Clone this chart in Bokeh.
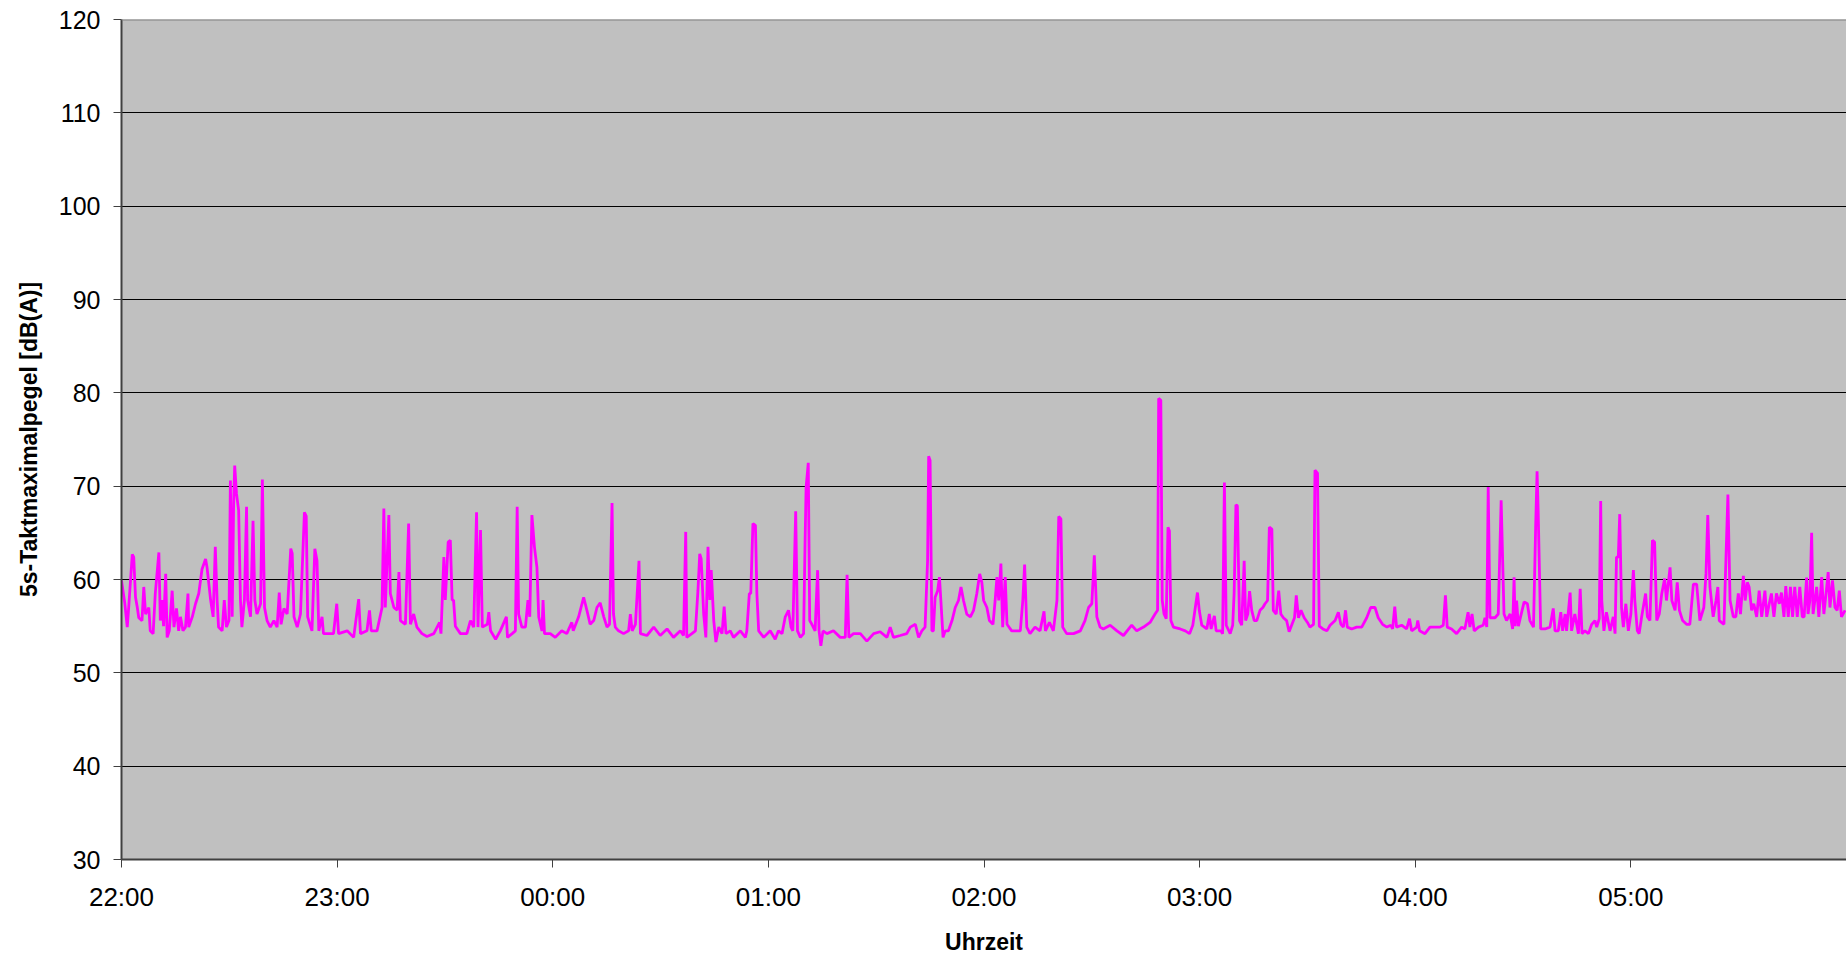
from bokeh.plotting import figure
from bokeh.models import Range1d, FixedTicker, Span
from bokeh.embed import file_html
from bokeh.resources import INLINE

# Minutes after 22:00 and 5 s maximum level in dB(A)
t_min = [
    0.0, 0.9, 1.6, 2.0, 3.0, 3.4, 3.9, 4.4, 4.8, 5.7, 6.2, 6.7, 7.6, 8.0, 8.8, 9.4, 10.4, 10.8, 11.3, 11.7,
    12.3, 12.7, 13.3, 14.1, 14.6, 15.3, 15.9, 16.4, 17.1, 17.8, 18.5, 18.7, 19.7, 20.6, 21.5, 22.4, 23.4, 23.8,
    24.8, 25.5, 26.1, 26.6, 27.0, 28.0, 28.6, 29.2, 29.9, 30.3, 30.8, 31.2, 31.5, 32.0, 32.6, 33.1, 33.5, 34.2,
    34.8, 35.1, 35.9, 36.6, 37.1, 37.7, 38.7, 39.2, 39.8, 40.5, 41.4, 42.4, 43.3, 43.9, 44.4, 45.2, 46.1, 47.1,
    47.5, 48.0, 48.9, 49.8, 50.9, 51.4, 51.8, 53.0, 53.8, 54.4, 54.9, 55.8, 56.2, 59.0, 59.9, 60.4, 62.8, 64.6,
    66.0, 66.5, 68.3, 69.0, 69.5, 71.1, 72.5, 73.0, 73.4, 74.4, 74.8, 75.8, 76.7, 77.2, 77.6, 79.0, 79.9, 80.4,
    81.3, 82.2, 83.6, 85.0, 86.9, 88.5, 88.9, 89.7, 90.1, 90.9, 91.5, 92.0, 92.4, 92.9, 94.3, 96.1, 97.1, 98.0,
    98.8, 99.2, 99.9, 100.4, 101.8, 102.2, 102.7, 104.1, 105.4, 107.1, 107.4, 108.7, 109.6, 110.1, 110.5, 111.4,
    112.4, 113.1, 113.6, 114.2, 114.9, 115.6, 116.1, 117.0, 117.3, 117.7, 119.3, 120.7, 122.5, 123.9, 125.3,
    125.7, 127.2, 128.6, 129.5, 130.4, 131.4, 132.3, 133.2,
    134.2, 135.1, 135.8, 136.5, 136.9, 137.4, 138.3, 139.7, 141.1, 141.6, 142.1, 143.0, 143.6, 144.0, 144.4,
    146.2, 148.1, 149.9, 151.8, 153.6, 155.5, 156.4, 157.0, 157.3, 158.7, 159.7, 160.4, 160.9, 161.3, 162.0,
    162.6, 163.2, 163.7, 164.1, 164.8, 165.4, 166.2, 167.1, 167.7, 168.2, 169.4, 170.3, 172.2, 173.6, 174.0,
    174.7, 175.1, 175.7, 176.4, 176.8, 177.3, 178.7, 180.5, 181.9, 182.8, 183.8, 184.7, 185.6, 186.3, 186.8,
    187.6, 188.1, 188.9, 189.8, 190.2, 190.5, 191.1, 191.5, 192.1, 193.0, 193.7, 194.1, 194.6, 195.2, 196.3,
    198.1, 200.0, 201.4, 201.9, 202.4, 203.7, 205.6, 207.4, 209.3, 211.1, 213.0, 213.9, 214.8, 216.7, 218.5,
    219.5, 220.9, 221.8, 222.7, 223.6, 224.3, 224.6, 225.0, 225.5, 225.9, 226.4, 227.1, 227.6, 228.0, 228.6,
    229.2, 230.1, 231.1, 232.0, 232.9, 233.6, 234.3, 235.2, 236.2, 237.1, 238.0, 238.8, 239.4, 239.9, 240.8,
    241.5, 242.5, 243.1, 243.6, 244.1, 244.7, 245.2, 245.9, 246.4, 247.7, 250.1, 250.8, 251.3, 251.9, 252.8,
    254.2, 255.6, 256.7, 257.1, 258.2, 259.3, 260.3, 260.8, 261.4, 261.9, 263.0, 264.9, 266.8, 268.1, 269.1,
    270.0, 270.7, 271.4, 272.3,
    273.2, 275.1, 277.0, 278.8, 281.1, 282.5, 284.4, 286.2, 287.6, 288.3, 288.6, 289.2, 289.6, 290.1, 290.7,
    291.2, 291.6, 292.0, 292.7, 294.6, 296.0, 297.2, 298.1, 298.8, 299.4, 299.9, 300.6, 302.0, 302.7, 303.2,
    304.1, 304.6, 305.9, 306.4, 306.9, 307.4, 308.5, 309.2, 309.6, 310.1, 310.5, 311.1, 311.7, 312.4, 312.8,
    313.4, 313.9, 314.5, 315.2, 315.9, 316.8, 317.6, 318.2, 318.9, 319.4, 320.1, 320.5, 321.3, 322.0, 322.6,
    323.3, 324.2, 324.9, 325.6, 326.4, 326.9, 327.5, 328.2, 329.1, 330.0, 330.7, 331.7, 332.1, 332.8, 333.3,
    334.3, 335.4, 336.3, 337.7, 338.6, 339.3, 340.0, 340.6, 341.1, 342.3, 343.7, 345.1, 346.5, 347.6, 348.8,
    349.7, 350.9, 352.1, 353.2, 353.7, 354.3, 354.8, 356.2, 357.6, 358.4, 359.0, 360.4, 360.7, 361.2, 362.7,
    364.1, 365.5, 366.9, 367.8, 368.4, 368.9, 370.1, 371.5, 372.9, 373.8, 374.7, 375.2, 375.8, 376.4, 377.6,
    378.9, 379.4, 379.9, 380.3, 380.8, 382.2, 383.1,
    383.9, 384.7, 385.4, 386.4, 387.1, 387.5, 387.8, 388.2, 388.7, 389.3, 390.3, 391.2, 391.9, 392.9, 393.5,
    393.9, 394.2, 394.9, 396.1, 397.5, 398.4, 398.9, 399.8, 400.5, 401.0, 401.7, 402.1, 403.1, 403.5, 404.4,
    405.4, 405.9, 406.4, 407.2, 408.2, 409.1, 410.0, 410.5, 411.2, 411.6, 411.9, 412.5, 413.2, 414.2, 415.1,
    415.6, 416.0, 416.5, 416.9, 417.4, 417.9, 418.6, 419.3, 420.0, 420.7, 421.1, 421.8, 422.3, 423.0, 424.1,
    424.6, 425.3, 426.0, 426.6, 427.2, 427.9, 428.6, 429.4, 429.9, 430.9, 431.4, 432.3, 432.9, 433.5, 434.4,
    435.5, 436.4, 437.4, 438.3, 438.7, 439.2, 440.3, 440.9, 441.4, 442.0, 442.9, 443.7, 444.2, 444.6, 445.9,
    447.0, 447.6, 448.5, 449.2, 449.9, 450.5, 451.3, 451.8, 452.4, 452.9, 453.6, 454.2, 455.0, 455.7, 456.4,
    457.3, 457.8, 458.5, 459.1, 459.8, 460.5, 461.3, 461.9, 462.6, 463.1, 463.8, 464.4, 465.0, 465.6, 466.3,
    467.0, 467.7, 468.2, 468.9, 469.3, 469.8, 470.3, 470.7, 471.7, 472.3, 473.1, 473.7, 474.4, 474.9, 475.4,
    476.1, 476.8, 477.4, 478.0, 478.6, 479.6,
]

level_db = [
    59.9, 57.5, 54.9, 57.0, 62.7, 62.4, 58.1, 57.0, 55.9, 55.6, 59.2, 56.3, 57.0, 54.5, 54.2, 58.5, 62.9, 55.6, 57.8, 55.0,
    60.6, 53.8, 54.5, 58.8, 54.9, 56.9, 54.5, 56.0, 54.5, 54.9, 58.5, 54.9, 56.0, 57.4, 58.5, 61.1, 62.2, 61.3,
    57.8, 56.0, 63.5, 57.8, 54.9, 54.5, 57.8, 54.9, 55.6, 70.6, 56.0, 68.1, 72.2, 69.2, 67.4, 57.8, 54.9, 57.8,
    67.8, 57.8, 56.0, 66.3, 57.8, 56.3, 57.4, 70.7, 57.0, 55.6, 54.9, 55.6, 54.9, 58.6, 55.2, 56.9, 56.3, 63.3,
    62.8, 56.0, 54.9, 56.3, 67.2, 66.8, 56.0, 54.5, 63.3, 62.0, 54.5, 56.0, 54.2, 54.2, 57.4, 54.2, 54.5, 53.8,
    57.9, 54.2, 54.5, 56.7, 54.5, 54.5, 57.0, 67.6, 57.0, 66.9, 58.5, 57.0, 56.7, 60.8, 55.6, 55.2, 66.0, 55.2,
    56.3, 54.9, 54.2, 53.9, 54.2, 55.4, 54.2, 62.4, 57.8, 64.0, 64.2, 57.8, 57.8, 55.0, 54.2, 54.2, 55.6, 54.9,
    67.2, 54.9, 65.3, 54.9, 55.2, 56.5, 54.5, 53.6, 54.5, 56.0, 53.8, 54.2, 54.5, 67.8, 56.3, 54.9,
    54.9, 57.8, 56.0, 66.9, 63.5, 61.3, 56.0, 54.5, 57.8, 54.2, 54.2, 53.8, 54.5, 54.2, 55.4,
    54.5, 56.0, 58.1, 56.7, 55.2, 55.6, 57.0, 57.5,
    56.0, 54.9, 55.2, 68.2, 56.3, 54.9, 54.5, 54.2, 54.5, 56.3, 54.5, 55.2, 59.2, 62.0, 54.2,
    54.0, 54.9, 54.0, 54.7, 53.8, 54.5, 54.0, 65.1, 53.8, 54.2, 54.5, 58.8, 62.75, 62.2, 56.3,
    53.8, 63.5, 57.8, 61.0, 55.6, 53.3, 54.9, 54.2, 57.1, 54.2, 54.5, 53.8, 54.5, 53.8, 54.5,
    58.5, 58.5, 66.0, 65.8, 58.5, 54.5, 53.8, 54.5, 53.6, 54.5, 54.2, 56.0, 56.7, 54.9, 54.5,
    67.3, 54.5, 53.8, 54.2, 63.8, 69.9, 72.5, 55.6, 55.2, 54.5, 61.0, 54.5, 52.9, 54.5, 54.2,
    54.5, 53.8, 53.8, 60.5, 53.8, 54.2, 54.2, 53.4, 54.2, 54.4, 53.8, 54.9, 53.8, 54.0, 54.2,
    54.9, 55.2, 53.8, 54.5, 54.9, 62.0, 73.2, 72.75, 54.5, 54.5, 58.1, 58.8, 60.25, 57.75, 53.8,
    54.5, 54.5, 55.6, 57.0, 57.75, 59.2, 57.75, 56.3, 56.0, 56.7, 58.5, 60.6, 59.7, 57.75, 57.0,
    55.6, 55.2, 57.75, 60.25, 57.75, 61.7, 54.9, 60.25, 55.2, 54.5, 54.5, 57.75, 61.6, 54.9, 54.2,
    54.9, 54.5, 56.6, 54.5, 55.4, 54.5, 57.75, 66.75, 66.5, 54.9, 54.2, 54.2, 54.5, 55.6, 57.0,
    57.4, 62.6, 56.0, 54.9,
    54.7, 55.1, 54.5, 54.0, 55.1, 54.5, 54.9, 55.4, 56.3, 56.7, 79.4, 79.2, 57.75, 56.3, 55.8,
    65.6, 65.2, 55.6, 54.9, 54.7, 54.5, 54.2, 55.1, 57.0, 58.6, 56.7, 55.1, 54.7, 56.3, 54.7,
    56.1, 54.5, 54.5, 54.2, 70.4, 55.1, 54.2, 55.1, 58.5, 68.0, 67.9, 55.6, 55.1, 62.0, 55.6,
    56.3, 58.75, 56.7, 55.6, 55.6, 56.7, 57.0, 57.4, 57.75, 65.6, 65.4, 56.7, 56.3, 58.8, 56.3,
    55.9, 55.6, 54.4, 55.1, 55.9, 58.3, 55.9, 56.7, 55.9, 55.4, 54.9, 55.2, 71.7, 71.4, 55.0,
    54.7, 54.5, 55.1, 55.6, 56.5, 55.2, 54.9, 56.7, 54.9, 54.7, 54.9, 54.9, 55.9, 57.0, 57.0,
    55.9, 55.2, 54.9, 55.1, 54.7, 57.1, 54.9, 55.1, 54.7, 55.8, 54.5, 54.9, 55.6, 54.5, 54.2,
    54.9, 54.9, 54.9, 55.1, 58.3, 54.9, 54.7, 54.2, 54.9, 54.7, 56.5, 54.9, 56.3, 54.5, 54.9,
    55.1, 55.9, 54.9, 69.9, 55.9, 55.9, 56.3,
    68.5, 56.3, 55.6, 56.3, 54.7, 60.25, 55.0, 57.75, 55.0, 56.0, 57.6, 57.4, 55.6, 54.9, 65.6,
    71.6, 67.4, 54.7, 54.7, 54.9, 56.9, 54.5, 54.5, 56.5, 54.5, 56.3, 54.5, 58.6, 54.5, 56.3,
    54.2, 59.0, 54.2, 54.5, 54.2, 55.2, 55.6, 54.9, 55.8, 68.4, 57.75, 54.5, 56.5, 54.5, 56.0,
    54.2, 62.4, 62.4, 67.0, 57.0, 54.9, 57.4, 54.5, 56.3, 61.0, 57.75, 54.5, 54.2, 56.0, 58.5,
    56.0, 55.6, 64.2, 64.0, 55.6, 56.3, 58.5, 60.1, 57.75, 61.3, 57.75, 56.7, 59.7, 56.7, 55.6,
    55.2, 55.2, 59.5, 59.5, 57.75, 55.6, 57.0, 60.6, 66.9, 59.2, 56.0, 57.75, 59.2, 55.6, 55.2,
    69.1, 57.75, 56.0, 56.0, 58.5, 56.3, 60.4, 57.75, 59.7, 59.2, 56.7, 57.4, 56.0, 58.8, 56.0,
    58.8, 56.0, 57.4, 58.5, 56.0, 58.5, 57.4, 58.6, 56.0, 59.3, 56.0, 59.2, 56.0, 59.2, 56.0,
    59.2, 56.0, 56.0, 60.2, 56.3, 57.75, 65.0, 56.3, 59.2, 56.0, 60.25, 56.3, 58.8, 60.8, 57.0,
    59.9, 57.0, 56.7, 58.8, 56.0, 56.7,
]

hour_ticks = [0, 60, 120, 180, 240, 300, 360, 420]
hour_labels = ["22:00", "23:00", "00:00", "01:00", "02:00", "03:00", "04:00", "05:00"]
level_ticks = [30, 40, 50, 60, 70, 80, 90, 100, 110, 120]

FONT = "Liberation Sans"

p = figure(
    width=1846, height=958,
    output_backend="svg", toolbar_location=None,
    x_range=Range1d(0, 480), y_range=Range1d(30, 120),
    min_border_left=121, min_border_right=0, min_border_top=19, min_border_bottom=99,
    background_fill_color="#C0C0C0", border_fill_color="white",
    outline_line_color=None,
)

p.line(t_min, level_db, line_color="#FF00FF", line_width=2.8)

p.add_layout(Span(location=120, dimension="width", line_color="#808080", line_width=2))

# x axis
p.xaxis.ticker = FixedTicker(ticks=hour_ticks)
p.xaxis.major_label_overrides = {t: lab for t, lab in zip(hour_ticks, hour_labels)}
p.xaxis.axis_label = "Uhrzeit"
p.xaxis.major_label_text_font = FONT
p.xaxis.major_label_text_font_size = "26px"
p.xaxis.major_label_text_color = "black"
p.xaxis.major_label_standoff = 14
p.xaxis.axis_label_text_font = FONT
p.xaxis.axis_label_text_font_size = "23px"
p.xaxis.axis_label_text_font_style = "bold"
p.xaxis.axis_label_text_color = "black"
p.xaxis.axis_label_standoff = 14
p.xaxis.axis_line_color = "#404040"
p.xaxis.axis_line_width = 2
p.xaxis.major_tick_line_color = "#404040"
p.xaxis.major_tick_out = 8
p.xaxis.major_tick_in = 0
p.xaxis.minor_tick_line_color = None

# y axis
p.yaxis.ticker = FixedTicker(ticks=level_ticks)
p.yaxis.axis_label = "5s-Taktmaximalpegel [dB(A)]"
p.yaxis.major_label_text_font = FONT
p.yaxis.major_label_text_font_size = "25px"
p.yaxis.major_label_text_color = "black"
p.yaxis.major_label_standoff = 13
p.yaxis.axis_label_text_font = FONT
p.yaxis.axis_label_text_font_size = "23px"
p.yaxis.axis_label_text_font_style = "bold"
p.yaxis.axis_label_text_color = "black"
p.yaxis.axis_label_standoff = 14
p.yaxis.axis_line_color = "#404040"
p.yaxis.axis_line_width = 2
p.yaxis.major_tick_line_color = "#404040"
p.yaxis.major_tick_out = 8
p.yaxis.major_tick_in = 0
p.yaxis.minor_tick_line_color = None

p.xgrid.visible = False
p.ygrid.grid_line_color = "black"
p.ygrid.grid_line_width = 1.2

open("out.html", "w").write(file_html(p, INLINE))
